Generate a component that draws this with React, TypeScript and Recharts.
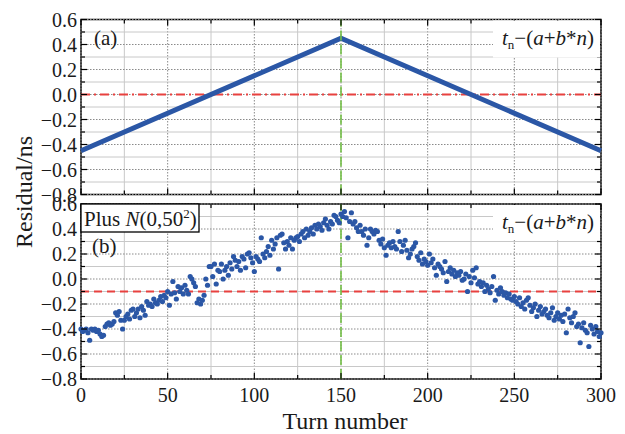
import React from "react";
import {
  ComposedChart,
  Line,
  Scatter,
  XAxis,
  YAxis,
  ReferenceLine,
  ReferenceArea,
} from "recharts";

// Turn number axis: ticks every 25, labels every 50
const turnTicks = [0, 25, 50, 75, 100, 125, 150, 175, 200, 225, 250, 275, 300];
const turnLabels = [0, 50, 100, 150, 200, 250, 300];

// Residual axis: ticks every 0.1, labels every 0.2
const residualTicks = [
  -0.8, -0.7, -0.6, -0.5, -0.4, -0.3, -0.2, -0.1, 0, 0.1, 0.2, 0.3, 0.4, 0.5, 0.6,
];
const residualLabels = [-0.8, -0.6, -0.4, -0.2, 0, 0.2, 0.4, 0.6];

// panel (a): ideal residual
const lineTurns = [0, 150, 300];
const lineResidual = [-0.45, 0.45, -0.45];

// panel (b): residual with noise, one value per turn 0..300
const noisyResidual = [
  -0.40, -0.42, -0.41, -0.40, -0.43, -0.49, -0.40, -0.41, -0.40, -0.42,
  -0.41, -0.44, -0.46, -0.45, -0.38, -0.36, -0.35, -0.37, -0.36, -0.34,
  -0.27, -0.29, -0.26, -0.33, -0.40, -0.33, -0.30, -0.28, -0.32, -0.25,
  -0.24, -0.30, -0.27, -0.24, -0.31, -0.22, -0.25, -0.29, -0.18, -0.21,
  -0.20, -0.22, -0.16, -0.19, -0.20, -0.17, -0.14, -0.18, -0.13, -0.15,
  -0.10, -0.21, -0.12, -0.02, -0.11, -0.16, -0.06, -0.10, -0.07, -0.12,
  -0.05, -0.09, -0.12, 0.02, 0.00, -0.03, -0.06, -0.19, -0.16, -0.20,
  -0.17, -0.13, 0.00, -0.05, 0.10, 0.10, 0.02, 0.12, -0.04, 0.07,
  0.06, 0.12, 0.00, 0.07, 0.10, 0.03, 0.13, 0.08, 0.18, 0.15,
  0.10, 0.14, 0.07, 0.18, 0.16, 0.09, 0.20, 0.21, 0.17, 0.13,
  0.06, 0.18, 0.16, 0.14, 0.33, 0.20, 0.17, 0.22, 0.26, 0.19,
  0.31, 0.24, 0.28, 0.33, 0.08, 0.35, 0.36, 0.29, 0.24, 0.30,
  0.27, 0.33, 0.24, 0.31, 0.33, 0.34, 0.30, 0.36, 0.38, 0.33,
  0.40, 0.35, 0.38, 0.41, 0.36, 0.43, 0.40, 0.44, 0.42, 0.39,
  0.45, 0.48, 0.43, 0.40, 0.46, 0.44, 0.51, 0.50, 0.47, 0.45,
  0.52, 0.50, 0.54, 0.49, 0.33, 0.46, 0.53, 0.44, 0.46, 0.41,
  0.38, 0.43, 0.38, 0.35, 0.40, 0.27, 0.33, 0.40, 0.38, 0.36,
  0.39, 0.38, 0.31, 0.28, 0.32, 0.25, 0.19, 0.27, 0.29, 0.25,
  0.30, 0.26, 0.24, 0.38, 0.30, 0.22, 0.27, 0.31, 0.23, 0.17,
  0.20, 0.24, 0.26, 0.29, 0.18, 0.15, 0.21, 0.12, 0.16, 0.14,
  0.11, 0.20, 0.13, 0.16, 0.09, 0.03, 0.12, 0.10, 0.08, 0.05,
  0.14, -0.02, 0.06, 0.09, 0.04, 0.07, 0.02, 0.05, 0.03, 0.06,
  -0.01, 0.00, 0.04, -0.10, 0.02, -0.03, 0.07, 0.01, 0.09, -0.04,
  -0.02, -0.06, -0.03, -0.10, -0.05, -0.08, -0.11, -0.06, 0.02, -0.17,
  -0.09, -0.12, -0.07, -0.10, -0.13, -0.11, -0.15, -0.12, -0.16, -0.17,
  -0.14, -0.18, -0.20, -0.15, -0.22, -0.19, -0.24, -0.17, -0.15, -0.21,
  -0.26, -0.23, -0.20, -0.30, -0.25, -0.22, -0.28, -0.26, -0.24, -0.29,
  -0.31, -0.27, -0.23, -0.33, -0.30, -0.27, -0.32, -0.29, -0.34, -0.28,
  -0.43, -0.24, -0.31, -0.35, -0.30, -0.27, -0.38, -0.36, -0.51, -0.39,
  -0.35, -0.41, -0.43, -0.54, -0.37, -0.40, -0.44, -0.38, -0.42, -0.46,
  -0.43,
];

const zeroLevel = 0;
const meanLevel = -0.1;
const peakTurn = 150;

const linePoints = lineTurns.map((n, i) => ({ n, v: lineResidual[i] }));
const noisyPoints = noisyResidual.map((v, n) => ({ n, v }));

const FONT = "'Liberation Serif', serif";
const PLOT_W = 520;
const PLOT_H = 175;
const BLUE = "#2b57a6";
const RED = "#e8413f";
const GREEN = "#72bf45";

const isLabelY = (v: number) => residualLabels.some((l) => Math.abs(l - v) < 1e-6);
const fmtY = (v: number) => {
  const s = Math.abs(v).toFixed(1);
  return v < -1e-6 ? "\u2212" + s : s;
};

const yTick = (props: any) => {
  const { x, y, payload } = props;
  const major = isLabelY(payload.value);
  const len = major ? 6 : 4;
  return (
    <g>
      <line x1={x} x2={x + len} y1={y} y2={y} stroke="#000" strokeWidth={1.2} />
      <line x1={x + PLOT_W} x2={x + PLOT_W - len} y1={y} y2={y} stroke="#000" strokeWidth={1.2} />
      {major && (
        <text x={x - 4} y={y + 7} textAnchor="end" fontSize={20} fontFamily={FONT} fill="#1a1a1a">
          {fmtY(payload.value)}
        </text>
      )}
    </g>
  );
};

const makeXTick = (showLabels: boolean) => (props: any) => {
  const { x, y, payload } = props;
  const major = turnLabels.includes(payload.value);
  const len = major ? 6 : 4;
  return (
    <g>
      <line x1={x} x2={x} y1={y} y2={y - len} stroke="#000" strokeWidth={1.2} />
      <line x1={x} x2={x} y1={y - PLOT_H} y2={y - PLOT_H + len} stroke="#000" strokeWidth={1.2} />
      {showLabels && major && (
        <text x={x} y={y + 23} textAnchor="middle" fontSize={20} fontFamily={FONT} fill="#1a1a1a">
          {payload.value}
        </text>
      )}
    </g>
  );
};

const gridLines = () => [
  ...turnTicks.map((t) => (
    <ReferenceLine
      key={"gx" + t}
      x={t}
      stroke={turnLabels.includes(t) ? "#8a8a8a" : "#c8c8c8"}
      strokeDasharray={turnLabels.includes(t) ? "1.5 1.5" : undefined}
      strokeWidth={1}
    />
  )),
  ...residualTicks.map((r) => (
    <ReferenceLine
      key={"gy" + r}
      y={r}
      stroke={isLabelY(r) ? "#8a8a8a" : "#c8c8c8"}
      strokeDasharray={isLabelY(r) ? "1.5 1.5" : undefined}
      strokeWidth={1}
    />
  )),
];

const axes = (showXLabels: boolean, xHeight: number) => [
  <XAxis
    key="x"
    dataKey="n"
    type="number"
    domain={[0, 300]}
    ticks={turnTicks}
    interval={0}
    height={xHeight}
    axisLine={false}
    tickLine={false}
    tickSize={0}
    tickMargin={0}
    tick={makeXTick(showXLabels)}
  />,
  <YAxis
    key="y"
    type="number"
    domain={[-0.8, 0.6]}
    ticks={residualTicks}
    interval={0}
    width={60}
    axisLine={false}
    tickLine={false}
    tickSize={0}
    tickMargin={0}
    tick={yTick}
  />,
];

const border = (
  <ReferenceArea
    x1={0}
    x2={300}
    y1={-0.8}
    y2={0.6}
    fill="none"
    fillOpacity={0}
    stroke="#000"
    strokeWidth={1.5}
  />
);

const Dot = (p: any) => <circle cx={p.cx} cy={p.cy} r={2.6} fill={BLUE} />;

const Formula = ({ x, y }: { x: number; y: number }) => (
  <text x={x} y={y} fontSize={21} fontFamily={FONT} fill="#1a1a1a">
    <tspan fontStyle="italic">t</tspan>
    <tspan fontSize={13} dy={4}>n</tspan>
    <tspan dy={-4}>{"\u2212("}</tspan>
    <tspan fontStyle="italic">a</tspan>
    <tspan>+</tspan>
    <tspan fontStyle="italic">b</tspan>
    <tspan>*</tspan>
    <tspan fontStyle="italic">n</tspan>
    <tspan>)</tspan>
  </text>
);

export default function App() {
  return (
    <div
      style={{
        position: "absolute",
        left: 0,
        top: 0,
        width: 625,
        height: 434,
        background: "#fff",
        fontFamily: FONT,
      }}
    >
      <div style={{ position: "absolute", left: 0, top: 0 }}>
        <ComposedChart
          width={625}
          height={210}
          data={linePoints}
          margin={{ top: 19.5, right: 24, bottom: 14.5, left: 21 }}
        >
          {axes(false, 1)}
          {gridLines()}
          <ReferenceLine y={zeroLevel} stroke={RED} strokeWidth={1.8} strokeDasharray="9 4 2 4" />
          <Line
            dataKey="v"
            type="linear"
            stroke={BLUE}
            strokeWidth={5}
            dot={false}
            isAnimationActive={false}
          />
          <ReferenceLine x={peakTurn} stroke={GREEN} strokeWidth={1.6} strokeDasharray="10 4" />
          {border}
        </ComposedChart>
      </div>
      <div style={{ position: "absolute", left: 0, top: 184 }}>
        <ComposedChart
          width={625}
          height={250}
          data={noisyPoints}
          margin={{ top: 20, right: 24, bottom: 15, left: 21 }}
        >
          {axes(true, 40)}
          {gridLines()}
          <ReferenceLine y={meanLevel} stroke={RED} strokeWidth={1.8} strokeDasharray="8 5" />
          <Scatter dataKey="v" shape={Dot} isAnimationActive={false} />
          <ReferenceLine x={peakTurn} stroke={GREEN} strokeWidth={1.6} strokeDasharray="10 4" />
          {border}
        </ComposedChart>
      </div>
      <svg
        width={625}
        height={434}
        style={{ position: "absolute", left: 0, top: 0, pointerEvents: "none" }}
      >
        <text x={94} y={45} fontSize={21} fontFamily={FONT} fill="#1a1a1a">
          (a)
        </text>
        <rect x={493} y={20.5} width={107} height={37} fill="#fff" />
        <Formula x={502} y={45} />

        <rect x={493} y={205} width={107} height={35} fill="#fff" />
        <Formula x={502} y={229} />

        <rect x={81} y={204} width={118} height={28} fill="#fff" stroke="#000" strokeWidth={1.3} />
        <text x={84} y={226} fontSize={21} fontFamily={FONT} fill="#1a1a1a">
          <tspan>Plus </tspan>
          <tspan fontStyle="italic">N</tspan>
          <tspan>(0,50</tspan>
          <tspan fontSize={13} dy={-8}>2</tspan>
          <tspan dy={8}>)</tspan>
        </text>
        <text x={92} y={253} fontSize={21} fontFamily={FONT} fill="#1a1a1a">
          (b)
        </text>

        <text
          transform="translate(32,192) rotate(-90)"
          textAnchor="middle"
          fontSize={24}
          fontFamily={FONT}
          fill="#1a1a1a"
        >
          Residual/ns
        </text>
        <text x={345} y={429} textAnchor="middle" fontSize={24} fontFamily={FONT} fill="#1a1a1a">
          Turn number
        </text>
      </svg>
    </div>
  );
}
